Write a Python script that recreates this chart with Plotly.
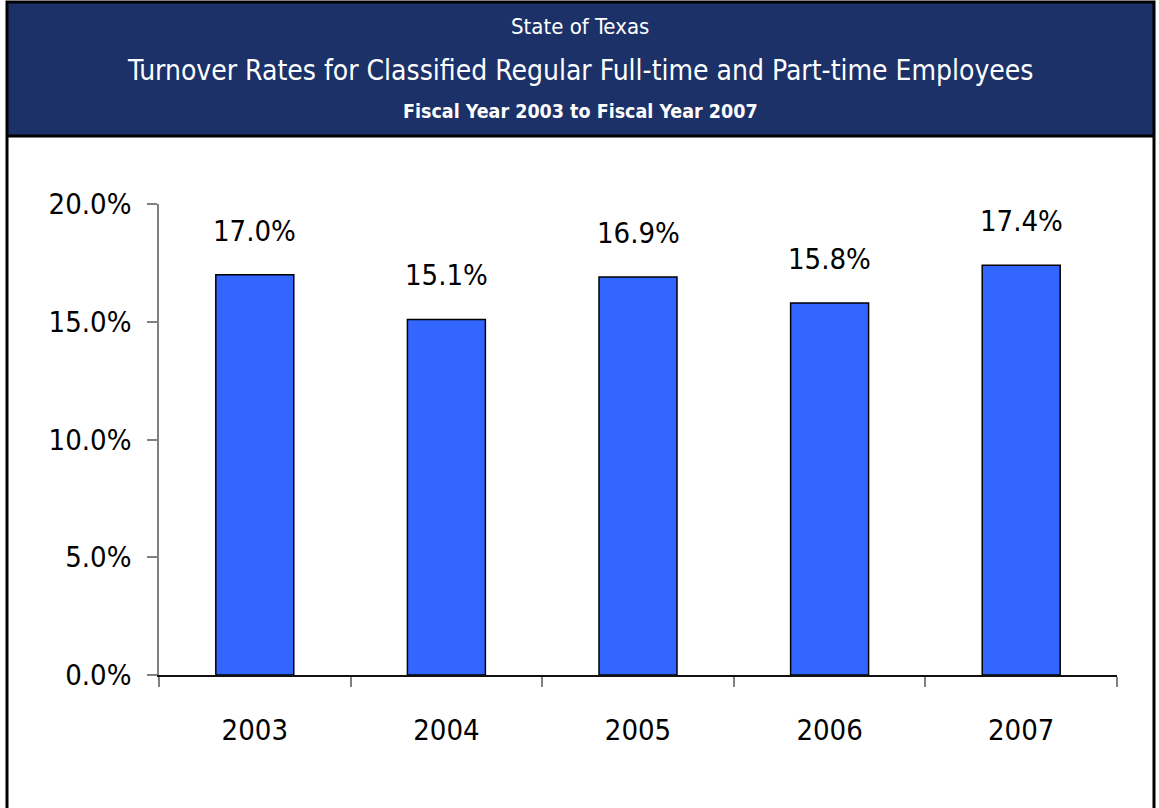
import plotly.graph_objects as go

# Turnover rates by fiscal year
years = ["2003", "2004", "2005", "2006", "2007"]
turnover = [0.170, 0.151, 0.169, 0.158, 0.174]
y_ticks = [0.0, 0.05, 0.10, 0.15, 0.20]

header_lines = [
    "State of Texas",
    "Turnover Rates for Classified Regular Full-time and Part-time Employees",
    "Fiscal Year 2003 to Fiscal Year 2007",
]

W, H = 1159, 808
ML, MR, MT, MB = 159, 42, 204, 133
PW, PH = W - ML - MR, H - MT - MB

FONT = "DejaVu Sans Condensed, DejaVu Sans, sans-serif"
NAVY = "#1b3168"
TICK_SIZE = 29


def px_x(px):
    return (px - ML) / PW


def px_y(py):
    return (H - MB - py) / PH


fig = go.Figure(
    go.Bar(
        x=years,
        y=turnover,
        marker=dict(color="#3366ff", line=dict(color="#000000", width=1.5)),
        hoverinfo="skip",
    )
)

# value labels above each bar (category axis: position by category index)
for i, v in enumerate(turnover):
    fig.add_annotation(
        x=i, y=v, xref="x", yref="y", text=f"{v * 100:.1f}%",
        showarrow=False, yanchor="middle", yshift=44,
        font=dict(family=FONT, size=TICK_SIZE, color="#000000"),
    )

# header band and outer frame
fig.add_shape(type="rect", xref="paper", yref="paper",
              x0=px_x(7), x1=px_x(1154), y0=px_y(136), y1=px_y(2),
              fillcolor=NAVY, line=dict(width=0), layer="below")
fig.add_shape(type="line", xref="paper", yref="paper",
              x0=px_x(7), x1=px_x(1154), y0=px_y(136), y1=px_y(136),
              line=dict(color="#000000", width=3))
fig.add_shape(type="rect", xref="paper", yref="paper",
              x0=px_x(7), x1=px_x(1154), y0=px_y(830), y1=px_y(2),
              line=dict(color="#000000", width=3), fillcolor="rgba(0,0,0,0)")

header_y = [26, 70, 111]
header_size = [22, 28, 19.5]
header_weight = ["normal", "normal", "bold"]
for txt, yy, sz, wt in zip(header_lines, header_y, header_size, header_weight):
    fig.add_annotation(
        x=px_x(580), y=px_y(yy), xref="paper", yref="paper", text=txt,
        showarrow=False, xanchor="center", yanchor="middle",
        font=dict(family=FONT, size=sz, color="#ffffff", weight=wt),
    )

fig.update_layout(
    width=W, height=H,
    margin=dict(l=ML, r=MR, t=MT, b=MB, pad=0),
    paper_bgcolor="#ffffff", plot_bgcolor="#ffffff",
    bargap=0.593, showlegend=False,
    font=dict(family=FONT, size=TICK_SIZE, color="#000000"),
)
fig.update_xaxes(
    type="category", range=[-0.5, len(years) - 0.5],
    showline=True, linecolor="#111111", linewidth=1.5,
    ticks="outside", tickson="boundaries", ticklen=10, tickcolor="#808080",
    tickwidth=1.5, showgrid=False, ticklabelstandoff=28,
    tickfont=dict(family=FONT, size=TICK_SIZE, color="#000000"),
)
fig.update_yaxes(
    range=[0, 0.2], tickvals=y_ticks, tickformat=".1%",
    showline=True, linecolor="#808080", linewidth=1.5,
    ticks="outside", ticklen=10, tickcolor="#808080", tickwidth=1.5,
    showgrid=False, zeroline=False, ticklabelstandoff=10,
    tickfont=dict(family=FONT, size=TICK_SIZE, color="#000000"),
)

fig.write_html("out.html")
